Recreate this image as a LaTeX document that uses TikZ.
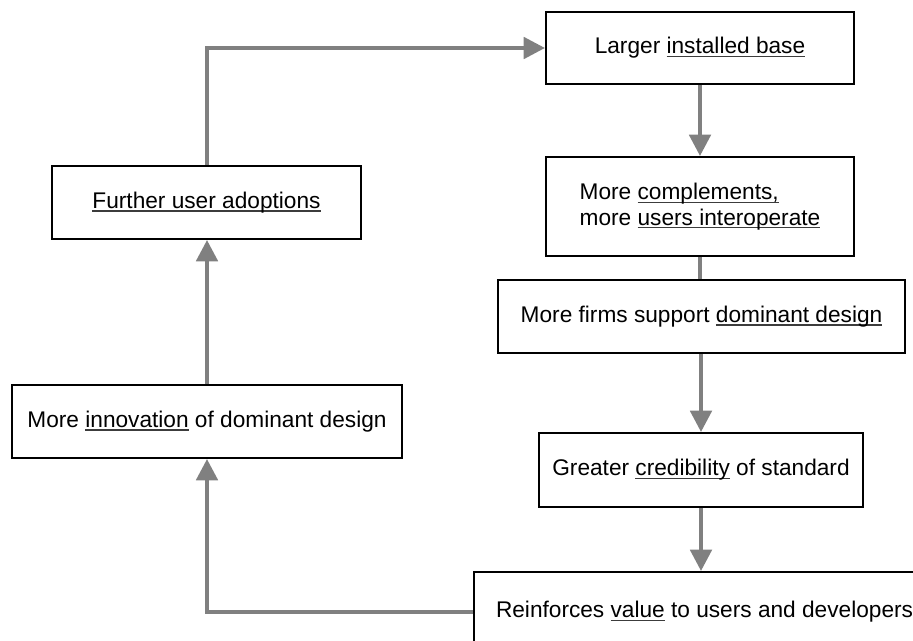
\documentclass[tikz,border=0pt]{standalone}
\usepackage{fontspec}
\setmainfont{Liberation Sans}
\usepackage{xcolor}
\definecolor{linkgray}{RGB}{128,128,128}
\definecolor{ulgray}{RGB}{60,60,60}
\usepackage{tikz}
\usetikzlibrary{arrows.meta}
\newcommand{\ulword}[1]{\setbox0\hbox{#1}\rlap{\color{ulgray}\rule[-2.6pt]{\wd0}{1.1pt}}\box0\relax}
\newcommand{\heightbox}{54.75pt}
\newcommand{\widthbase}{231pt}
\newcommand{\widthfirms}{305.25pt}
\newcommand{\widthcred}{243pt}
\newcommand{\widthinnov}{292.5pt}
\newcommand{\widthfurther}{231.75pt}
\tikzset{
    common/.style={draw, rectangle, line width=1.5pt, inner sep=0pt, minimum height=\heightbox,
        font=\fontsize{17}{19}\selectfont},
    stage/.style={common, minimum width=#1},
    wide/.style={common, anchor=west, inner xsep=16.5pt, minimum height=60pt},
    link/.style={draw=linkgray, line width=3pt},
    arrowlink/.style={link, -{Triangle[length=16pt, width=16pt]}}
}
\begin{document}
\begin{tikzpicture}[x=0.75pt, y=0.75pt]
  \useasboundingbox (0,0) rectangle (913,640);

  \path
    (700,592) node[stage=\widthbase, minimum height=54pt] (installed-base) {Larger \ulword{installed base}}
    (700,433.5) node[stage=\widthbase, minimum height=74.25pt, align=left] (complements) {More \ulword{complements,}\\more \ulword{users interoperate}}
    (701.5,323.5) node[stage=\widthfirms] (firms-support) {More firms support \ulword{dominant design}}
    (701,170) node[stage=\widthcred, minimum height=55.5pt] (credibility) {Greater \ulword{credibility} of standard}
    (473,28) node[wide] (reinforces) {Reinforces \ulword{value} to users and developers}
    (207,218.5) node[stage=\widthinnov] (innovation) {More \ulword{innovation} of dominant design}
    (206.5,437.5) node[stage=\widthfurther] (further-adoptions) {\ulword{Further user adoptions}};

  \draw[arrowlink] (installed-base) -- (complements);
  \draw[link] (complements) -- (complements |- firms-support.north);
  \draw[arrowlink] (credibility |- firms-support.south) -- (credibility);
  \draw[arrowlink] (credibility.south) -- (credibility.south |- reinforces.north);
  \draw[arrowlink] (reinforces.west) -| (innovation.south);
  \draw[arrowlink] (innovation) -- (innovation |- further-adoptions.south);
  \draw[arrowlink] (further-adoptions.north) |- (installed-base.west);
\end{tikzpicture}
\end{document}
